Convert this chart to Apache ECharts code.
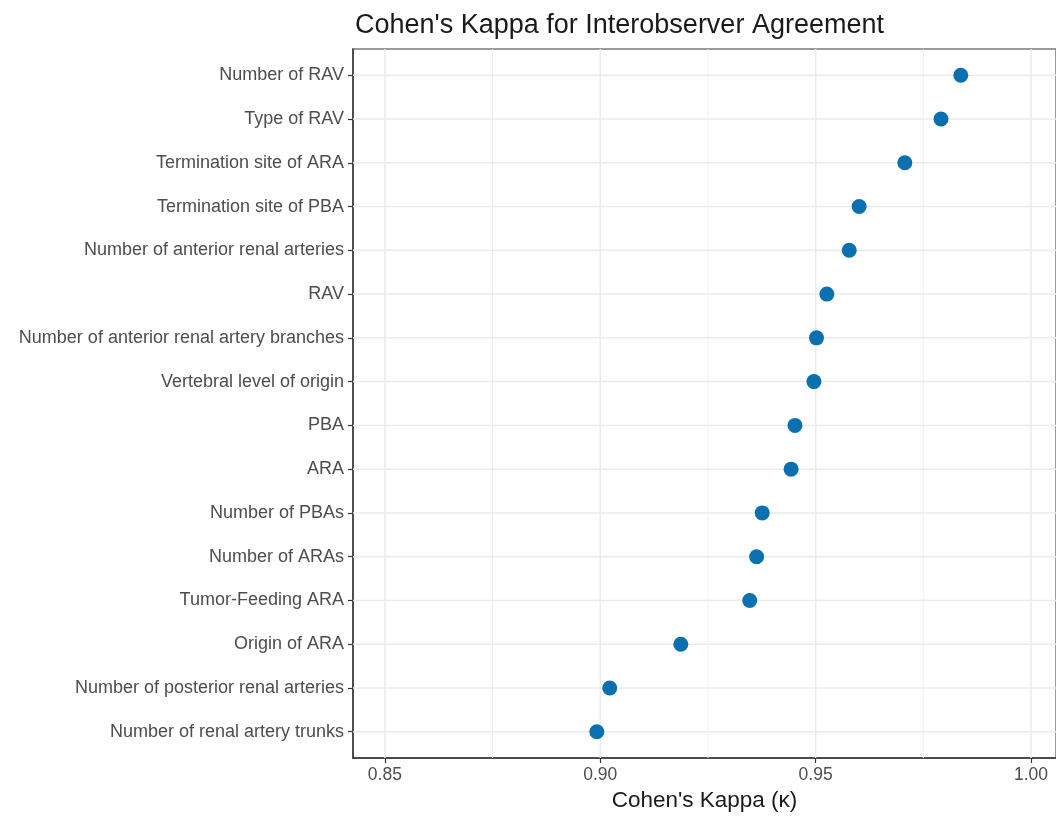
<!DOCTYPE html>
<html>
<head>
<meta charset="utf-8">
<script src="https://cdn.jsdelivr.net/npm/echarts@6/dist/echarts.min.js"></script>
<style>
html,body{margin:0;padding:0;background:#fff;}
#chart{width:1056px;height:817px;}
</style>
</head>
<body>
<div id="chart"></div>
<script>
const categories = [
  "Number of RAV",
  "Type of RAV",
  "Termination site of ARA",
  "Termination site of PBA",
  "Number of anterior renal arteries",
  "RAV",
  "Number of anterior renal artery branches",
  "Vertebral level of origin",
  "PBA",
  "ARA",
  "Number of PBAs",
  "Number of ARAs",
  "Tumor-Feeding ARA",
  "Origin of ARA",
  "Number of posterior renal arteries",
  "Number of renal artery trunks"
];
const kappaValues = [0.9837, 0.9791, 0.9707, 0.9601, 0.9578, 0.9526, 0.9502, 0.9496,
                     0.9452, 0.9443, 0.9376, 0.9363, 0.9347, 0.9187, 0.9022, 0.8992];
const xTicks = [0.85, 0.90, 0.95, 1.00];
const xMinorTicks = [0.875, 0.925, 0.975];

const X_MIN = 0.8426, X_MAX = 1.0058, Y_MIN = -0.6, Y_MAX = 15.6;

const chart = echarts.init(document.getElementById('chart'));
const font = 'Liberation Sans, Arial, sans-serif';
const catIdx = categories.map((c, i) => i);

function gridSeries(segments, color, width) {
  const data = [];
  segments.forEach((s, k) => {
    if (k > 0) data.push('-');
    data.push(s[0], s[1]);
  });
  return {
    type: 'line', data: data, symbol: 'none', silent: true, z: 1,
    connectNulls: false, animation: false,
    lineStyle: {color: color, width: width, type: 'solid'},
    tooltip: {show: false}
  };
}

const minorV = xMinorTicks.map(v => [[v, Y_MIN], [v, Y_MAX]]);
const majorV = xTicks.map(v => [[v, Y_MIN], [v, Y_MAX]]);
const majorH = catIdx.map(i => [[X_MIN, i], [X_MAX, i]]);

chart.setOption({
  animation: false,
  backgroundColor: '#fff',
  title: {
    text: "Cohen's Kappa for Interobserver Agreement",
    left: 350, top: 7,
    textStyle: {fontFamily: font, fontSize: 27, fontWeight: 'normal', color: '#1a1a1a'}
  },
  grid: {
    left: 353, right: 0, top: 49, bottom: 57,
    show: true, borderColor: '#7a7a7a', borderWidth: 1.5, backgroundColor: 'transparent'
  },
  xAxis: {
    type: 'value', min: X_MIN, max: X_MAX,
    name: "Cohen's Kappa (κ)", nameLocation: 'middle', nameGap: 31,
    nameTextStyle: {fontFamily: font, fontSize: 22.5, color: '#1a1a1a'},
    axisLine: {show: true, onZero: false, lineStyle: {color: '#333', width: 1.5}},
    axisTick: {show: true, customValues: xTicks, length: 5, lineStyle: {color: '#333', width: 1.2}},
    axisLabel: {customValues: xTicks, formatter: v => v.toFixed(2), margin: 8,
      fontFamily: font, fontSize: 17.5, color: '#4d4d4d'},
    splitLine: {show: false}
  },
  yAxis: {
    type: 'value', min: Y_MIN, max: Y_MAX, inverse: true,
    axisLine: {show: true, onZero: false, lineStyle: {color: '#333', width: 1.5}},
    axisTick: {show: true, customValues: catIdx, length: 5, lineStyle: {color: '#333', width: 1.2}},
    axisLabel: {customValues: catIdx, formatter: v => categories[Math.round(v)] || '', margin: 9,
      fontFamily: font, fontSize: 18, color: '#4d4d4d'},
    splitLine: {show: false}
  },
  series: [
    gridSeries(minorV, '#f2f2f2', 1),
    gridSeries(majorV, '#ebebeb', 1.5),
    gridSeries(majorH, '#ebebeb', 1.5),
    {
      type: 'scatter',
      data: kappaValues.map((v, i) => [v, i]),
      symbolSize: 15,
      itemStyle: {color: '#0a70b0', opacity: 1},
      z: 5
    }
  ]
});
</script>
</body>
</html>
